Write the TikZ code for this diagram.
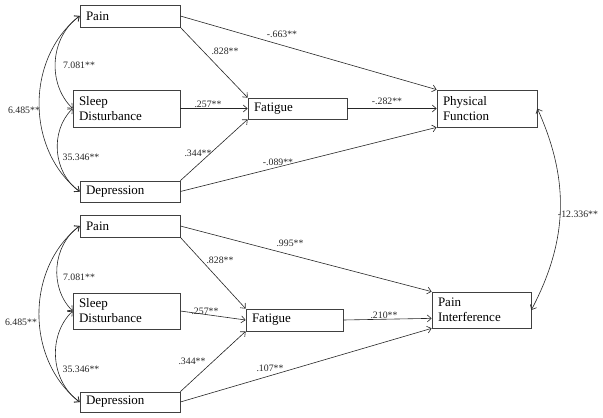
\documentclass[tikz,border=0pt]{standalone}
\usepackage{fontspec}
\setmainfont{Liberation Serif}
\usetikzlibrary{arrows.meta,calc}
\begin{document}
\begin{tikzpicture}[x=1pt,y=1pt,
 box/.style={draw=black!75, line width=0.7pt, align=left, inner xsep=6pt, inner ysep=0pt, font=\fontsize{13}{15}\selectfont, anchor=center},
 lbl/.style={font=\fontsize{9.8}{11}\selectfont, inner sep=0pt, text=black!85},
 arr/.style={draw=black!85, line width=0.6pt, -{Straight Barb[length=4pt,width=7pt]}},
 dbl/.style={draw=black!85, line width=0.6pt, {Straight Barb[length=4pt,width=7pt]}-{Straight Barb[length=4pt,width=7pt]}}]
\useasboundingbox (0,0) rectangle (603,-418);
% top model
\node[box, text width=88pt, minimum height=22pt] (pain1) at (130,-16) {Pain};
\node[box, text width=95pt, minimum height=37pt] (sleep1) at (126.5,-108.5) {Sleep\\Disturbance};
\node[box, text width=88pt, minimum height=21pt] (dep1) at (130,-191.5) {Depression};
\node[box, text width=87pt, minimum height=21pt] (fat1) at (297.5,-108.5) {Fatigue};
\node[box, text width=88pt, minimum height=37pt] (pf) at (487,-108.5) {Physical\\Function};
% bottom model
\node[box, text width=88pt, minimum height=22pt] (pain2) at (130,-226) {Pain};
\node[box, text width=95pt, minimum height=36pt] (sleep2) at (126.5,-311) {Sleep\\Disturbance};
\node[box, text width=88pt, minimum height=20pt] (dep2) at (130,-402) {Depression};
\node[box, text width=85pt, minimum height=22pt] (fat2) at (294.5,-320) {Fatigue};
\node[box, text width=87pt, minimum height=36pt] (pi) at (481.5,-310) {Pain\\Interference};
% top arrows
\draw[arr] (pain1.east) -- (pf.north west);
\draw[arr] (pain1.south east) -- (fat1.north west);
\draw[arr] (sleep1.east) -- (fat1.west);
\draw[arr] (dep1.north east) -- (fat1.south west);
\draw[arr] (dep1.east) -- (pf.south west);
\draw[arr] (fat1.east) -- (pf.west);
\draw[dbl] (pain1.west) to[bend right=50] (sleep1.west);
\draw[dbl] (sleep1.west) to[bend right=50] (dep1.west);
\draw[dbl] (pain1.west) to[bend right=52] (dep1.west);
% bottom arrows
\draw[arr] (pain2.east) -- (pi.north west);
\draw[arr] (pain2.south east) -- (fat2.north west);
\draw[arr] (sleep2.east) -- (fat2.west);
\draw[arr] (dep2.north east) -- (fat2.south west);
\draw[arr] (dep2.east) -- (pi.south west);
\coordinate (piin) at ($(pi.south west)+(0,10)$);
\draw[arr] (fat2.east) -- (piin);
\draw[dbl] (pain2.west) to[bend right=50] (sleep2.west);
\draw[dbl] (sleep2.west) to[bend right=50] (dep2.west);
\draw[dbl] (pain2.west) to[bend right=52] (dep2.west);
% correlation between outcomes
\draw[dbl] (pf.east) to[bend left=26] (pi.east);
% labels top
\node[lbl] (l1) at (79,-65) {7.081**};
\node[lbl] (l2) at (81,-157) {35.346**};
\node[lbl] (l3) at (24,-110) {6.485**};
\node[lbl] (l4) at (225,-51) {.828**};
\node[lbl] (l5) at (282,-34) {-.663**};
\node[lbl] (l6) at (208,-104) {.257**};
\node[lbl] (l7) at (198,-153) {.344**};
\node[lbl] (l8) at (278,-162) {-.089**};
\node[lbl] (l9) at (387,-101) {-.282**};
\node[lbl] (l10) at (578,-214) {-12.336**};
% labels bottom
\node[lbl] (m1) at (79,-277) {7.081**};
\node[lbl] (m2) at (81,-369) {35.346**};
\node[lbl] (m3) at (21,-322) {6.485**};
\node[lbl] (m4) at (220,-260) {.828**};
\node[lbl] (m5) at (290,-243) {.995**};
\node[lbl] (m6) at (205,-311) {.257**};
\node[lbl] (m7) at (192,-361) {.344**};
\node[lbl] (m8) at (270,-368) {.107**};
\node[lbl] (m9) at (384,-315) {.210**};
\end{tikzpicture}
\end{document}
